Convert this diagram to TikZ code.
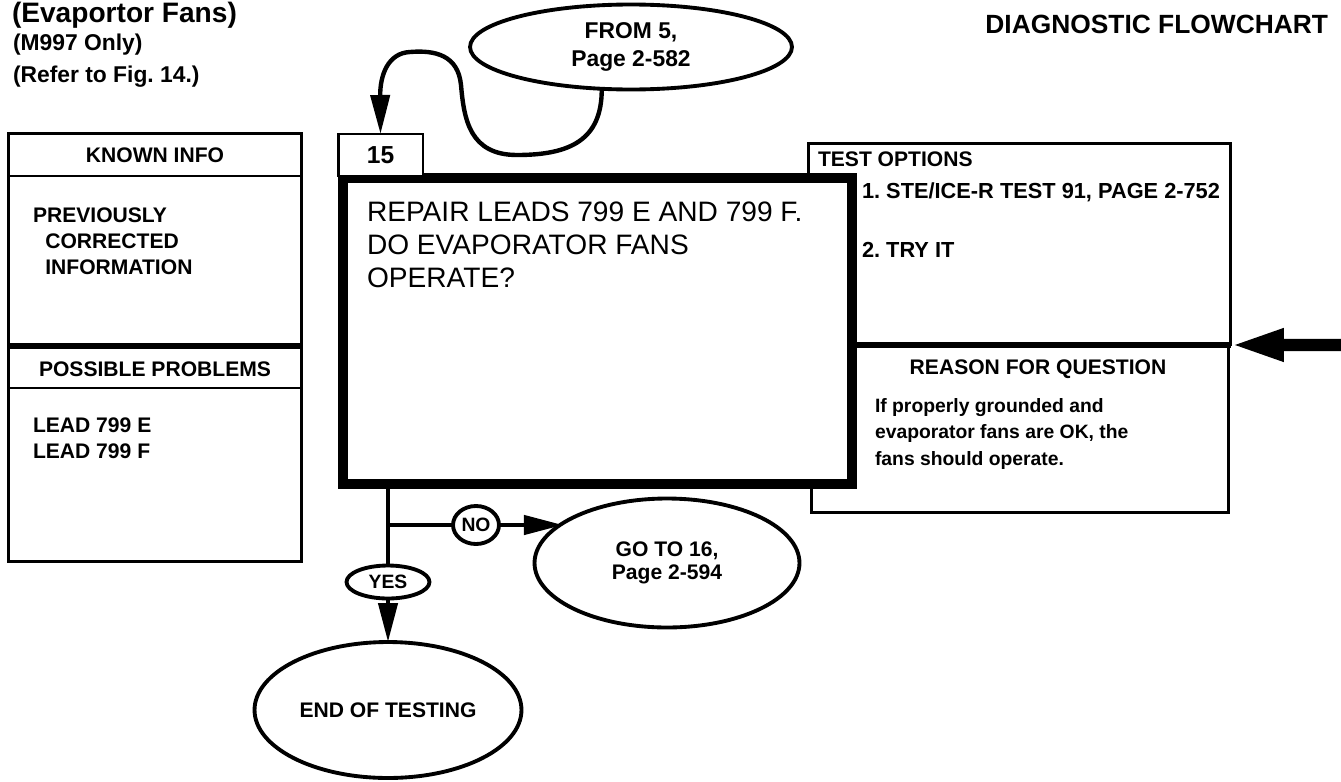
\documentclass[tikz,border=0pt]{standalone}
\usepackage{fontspec}
\setmainfont{Liberation Sans}
\usetikzlibrary{shapes.geometric,arrows.meta}
\frenchspacing

\begin{document}
\begin{tikzpicture}[x=0.02cm, y=-0.02cm,
  every node/.style={inner sep=0pt, outer sep=0pt},
  frame/.style={draw, line width=1.7pt, rectangle},
  oval/.style={draw, ellipse, line width=2.2pt, align=center, font=\fontsize{12}{13}\selectfont\bfseries},
  txt/.style={font=\fontsize{12}{14.7}\selectfont\bfseries, align=left, anchor=north west},
  flow/.style={line width=2.5pt},
  bigtip/.style={-{Triangle[length=0.78cm,width=0.38cm]}}]
\useasboundingbox (0,0) rectangle (1341,781);

% heading
\node[font=\fontsize{16}{16}\selectfont\bfseries, anchor=base west] (title) at (12,22) {(Evaportor Fans)};
\node[font=\fontsize{13}{13}\selectfont\bfseries, anchor=base west] (model) at (13,51) {(M997 Only)};
\node[font=\fontsize{13}{13}\selectfont\bfseries, anchor=base west] (figref) at (13,82) {(Refer to Fig. 14.)};
\node[font=\fontsize{15}{15}\selectfont\bfseries, anchor=base east] (chart) at (1328,33) {DIAGNOSTIC FLOWCHART};

% left column
\node[frame, minimum width=5.88cm, minimum height=4.24cm] (known) at (155,239) {};
\node[frame, minimum width=5.88cm, minimum height=4.3cm] (probs) at (155,454.5) {};
\draw[line width=1.7pt] (known.west |- 0,176) -- (known.east |- 0,176);
\draw[line width=1.7pt] (probs.west |- 0,388) -- (probs.east |- 0,388);
\node[txt, anchor=north] (knownhd) at (155,148) {KNOWN INFO};
\node[txt] (prev) at (33,208) {PREVIOUSLY\\\hspace*{7pt}CORRECTED\\\hspace*{7pt}INFORMATION};
\node[txt, anchor=north] (probshd) at (155,362) {POSSIBLE PROBLEMS};
\node[txt] (leads) at (33,418) {LEAD 799 E\\LEAD 799 F};

% right column
\node[frame, minimum width=8.46cm, minimum height=4.04cm] (test) at (1019.5,244) {};
\node[frame, minimum width=8.36cm, minimum height=3.36cm] (reason) at (1020,429) {};
\draw[line width=3pt] (test.south west) -- (test.south east);
\node[txt] (testhd) at (818,152) {TEST OPTIONS};
\node[txt, font=\fontsize{12.4}{14.7}\selectfont\bfseries] (opt1) at (862,183) {1. STE/ICE-R TEST 91, PAGE 2-752};
\node[txt, font=\fontsize{12.4}{14.7}\selectfont\bfseries] (opt2) at (862,242) {2. TRY IT};
\node[txt, anchor=north] (reasonhd) at (1038,360) {REASON FOR QUESTION};
\node[txt, font=\fontsize{11}{15.3}\selectfont\bfseries] (why) at (875,398) {If properly grounded and\\evaporator fans are OK, the\\fans should operate.};

% question box
\node[draw, fill=white, line width=5.7pt, minimum width=10.18cm, minimum height=6.12cm] (quest) at (597.5,331) {};
\node[frame, fill=white, minimum width=1.7cm, minimum height=0.84cm, font=\fontsize{14}{14}\selectfont\bfseries] (num) at (380.5,155) {15};
\node[font=\fontsize{16}{18.7}\selectfont, align=left, anchor=north west] (qtext) at (367,202) {REPAIR LEADS 799 E AND 799 F.\\DO EVAPORATOR FANS\\OPERATE?};

% ovals
\node[oval, minimum width=6.44cm, minimum height=1.7cm, font=\fontsize{13}{16}\selectfont\bfseries] (from) at (631,47) {FROM 5,\\Page 2-582};
\node[oval, minimum width=5.3cm, minimum height=2.58cm] (goto) at (667,563) {GO TO 16,\\Page 2-594};
\node[oval, minimum width=5.34cm, minimum height=2.72cm] (endt) at (388,710) {END OF TESTING};
\node[oval, minimum width=1.66cm, minimum height=0.66cm, font=\fontsize{11}{11}\selectfont\bfseries] (yes) at (388,582) {YES};
\node[oval, minimum width=0.92cm, minimum height=0.76cm, font=\fontsize{11}{11}\selectfont\bfseries] (no) at (476,525) {NO};

% connectors
\draw[flow, bigtip] (from.-125) .. controls (602,140) and (570,155) .. (517,155)
  .. controls (470,155) and (464,120) .. (461,85)
  .. controls (458,55) and (435,50) .. (410,52)
  .. controls (388,53) and (380,75) .. (num.north);
\draw[flow] (quest.south -| yes.north) -- (yes.north);
\draw[flow] (yes.north |- no.west) -- (no.west);
\draw[flow, bigtip] (no.east) -- (no.east -| goto.159);
\draw[flow, bigtip] (yes.south) -- (endt.north);
\coordinate (inlet) at (1341,345);
\draw[line width=7pt, -{Triangle[length=1.06cm,width=0.6cm]}] (inlet) -- (test.south east);
\end{tikzpicture}
\end{document}
